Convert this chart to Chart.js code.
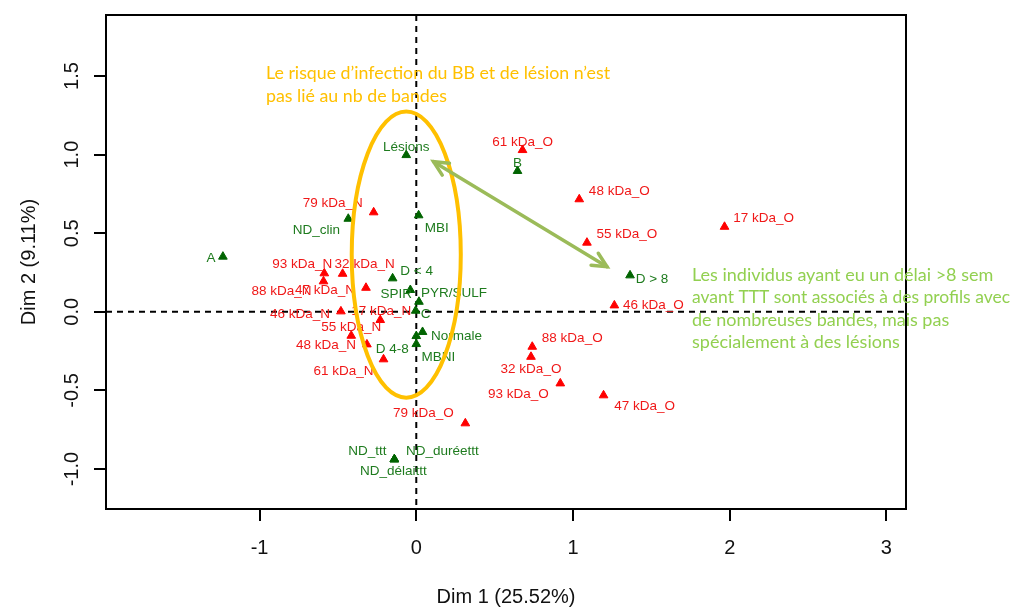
<!DOCTYPE html>
<html>
<head>
<meta charset="utf-8">
<script src="https://cdn.jsdelivr.net/npm/chart.js@4.4.0/dist/chart.umd.min.js"></script>
<style>
  html, body { margin: 0; padding: 0; background: #fff; }
</style>
</head>
<body>
<canvas id="mcaChart" width="1014" height="609"></canvas>
<script>
// Axis ticks
const xTicks = [-1, 0, 1, 2, 3];
const yTicks = [-1.0, -0.5, 0.0, 0.5, 1.0, 1.5];

// Band modalities (red)
const bandLabels = ['61 kDa_O', '48 kDa_O', '17 kDa_O', '55 kDa_O', '46 kDa_O', '88 kDa_O', '32 kDa_O', '93 kDa_O', '47 kDa_O', '79 kDa_O',
                    '79 kDa_N', '93 kDa_N', '32 kDa_N', '88 kDa_N', '47 kDa_N', '46 kDa_N', '17 kDa_N', '55 kDa_N', '48 kDa_N', '61 kDa_N'];
const bandDim1 = [0.678, 1.040, 1.967, 1.089, 1.264, 0.740, 0.732, 0.919, 1.195, 0.313,
                  -0.272, -0.587, -0.470, -0.592, -0.321, -0.481, -0.230, -0.415, -0.315, -0.209];
const bandDim2 = [1.029, 0.716, 0.541, 0.440, 0.041, -0.222, -0.286, -0.455, -0.531, -0.709,
                  0.633, 0.245, 0.242, 0.194, 0.153, 0.003, -0.052, -0.152, -0.207, -0.302];

// Supplementary variables (green)
const varLabels = ['Lésions', 'ND_clin', 'MBI', 'A', 'D < 4', 'SPIR', 'PYR/SULF', 'C', 'Normale', 'D 4-8', 'MBNI',
                   'ND_ttt', 'ND_duréettt', 'ND_délaittt', 'B', 'D > 8'];
const varDim1 = [-0.064, -0.434, 0.015, -1.234, -0.151, -0.038, 0.017, -0.004, 0.040, 0.000, 0.000,
                 -0.140, -0.140, -0.140, 0.646, 1.364];
const varDim2 = [0.997, 0.592, 0.614, 0.351, 0.213, 0.139, 0.064, 0.007, -0.128, -0.154, -0.205,
                 -0.938, -0.938, -0.938, 0.896, 0.232];

// label placement (pixel nudges from the marker)
const bandNudge = [[0,-8],[40,-8],[39,-9],[40,-8],[39,0],[40,-8],[0,12],[-42,11],[41,11],[-42,-10],
                   [-41,-9],[-22,-9],[22,-10],[-42,10],[-41,2],[-41,3],[1,-9],[0,-8],[-41,1],[-40,12]];
const varNudge = [[0,-8],[-32,12],[18,13],[-12,2],[24,-7],[-14,4],[35,-8],[10,4],[34,4],[-24,13],[22,13],
                  [-27,-8],[48,-8],[-1,12],[0,-8],[22,4]];

const FONT = "'Liberation Sans', Arial, sans-serif";
const NOTE_FONT = "Lato, 'Open Sans', sans-serif";

function toPoints(xs, ys) {
    return xs.map((v, i) => ({ x: v, y: ys[i] }));
}

// Draw an open arrow head at (x, y) pointing away from (fx, fy)
function arrowHead(ctx, fx, fy, x, y, len) {
    const ang = Math.atan2(y - fy, x - fx);
    ctx.beginPath();
    ctx.moveTo(x - len * Math.cos(ang - 0.45), y - len * Math.sin(ang - 0.45));
    ctx.lineTo(x, y);
    ctx.lineTo(x - len * Math.cos(ang + 0.45), y - len * Math.sin(ang + 0.45));
    ctx.stroke();
}

const overlayPlugin = {
    id: 'overlay',
    beforeDatasetsDraw(chart) {
        const { ctx, chartArea: a, scales: { x, y } } = chart;
        ctx.save();
        ctx.strokeStyle = '#000';
        ctx.lineWidth = 2;
        ctx.setLineDash([6, 5]);
        const x0 = x.getPixelForValue(0), y0 = y.getPixelForValue(0);
        ctx.beginPath();
        ctx.moveTo(x0, a.top); ctx.lineTo(x0, a.bottom);
        ctx.moveTo(a.left, y0); ctx.lineTo(a.right, y0);
        ctx.stroke();
        ctx.restore();
    },
    afterDraw(chart) {
        const { ctx, chartArea: a, scales: { x, y } } = chart;
        ctx.save();

        // plot box
        ctx.strokeStyle = '#000';
        ctx.lineWidth = 2;
        ctx.strokeRect(a.left, a.top, a.right - a.left, a.bottom - a.top);

        // y tick labels, rotated like R
        ctx.fillStyle = '#111';
        ctx.font = '20px ' + FONT;
        ctx.textAlign = 'center';
        ctx.textBaseline = 'alphabetic';
        yTicks.forEach(v => {
            ctx.save();
            ctx.translate(78, y.getPixelForValue(v));
            ctx.rotate(-Math.PI / 2);
            ctx.fillText(v.toFixed(1), 0, 0);
            ctx.restore();
        });

        // point labels
        ctx.font = '13.5px ' + FONT;
        ctx.textBaseline = 'middle';
        const labelSets = [[0, bandLabels, bandNudge, '#f01818'], [1, varLabels, varNudge, '#1e7b1e']];
        labelSets.forEach(([idx, labels, nudge, color]) => {
            const meta = chart.getDatasetMeta(idx);
            ctx.fillStyle = color;
            meta.data.forEach((pt, i) => {
                ctx.fillText(labels[i], pt.x + nudge[i][0], pt.y + nudge[i][1]);
            });
        });

        // orange ellipse around the central profiles
        const cx = x.getPixelForValue(-0.064), cy = y.getPixelForValue(0.364);
        const rx = x.getPixelForValue(-0.064 + 0.348) - cx;
        const ry = cy - y.getPixelForValue(0.364 + 0.91);
        ctx.strokeStyle = '#ffc000';
        ctx.lineWidth = 4;
        ctx.beginPath();
        ctx.ellipse(cx, cy, rx, ry, 0, 0, Math.PI * 2);
        ctx.stroke();

        // green double arrow
        const ax1 = x.getPixelForValue(0.110), ay1 = y.getPixelForValue(0.955);
        const ax2 = x.getPixelForValue(1.217), ay2 = y.getPixelForValue(0.287);
        ctx.strokeStyle = '#9bbb59';
        ctx.lineWidth = 3.5;
        ctx.lineCap = 'round';
        ctx.beginPath();
        ctx.moveTo(ax1, ay1); ctx.lineTo(ax2, ay2);
        ctx.stroke();
        arrowHead(ctx, ax1, ay1, ax2, ay2, 16);
        arrowHead(ctx, ax2, ay2, ax1, ay1, 16);

        // annotations
        ctx.textAlign = 'left';
        ctx.font = '17.8px ' + NOTE_FONT;
        ctx.fillStyle = '#ffc000';
        ctx.fillText('Le risque d’infection du BB et de lésion n’est', 266, 73, 344);
        ctx.fillText('pas lié au nb de bandes', 266, 96);
        ctx.fillStyle = '#92d050';
        ctx.font = '18px ' + NOTE_FONT;
        ['Les individus ayant eu un délai >8 sem',
         'avant TTT sont associés à des profils avec',
         'de nombreuses bandes, mais pas',
         'spécialement à des lésions'].forEach((line, i) => {
            ctx.fillText(line, 692, 275 + i * 22.5, 318);
        });

        ctx.restore();
    }
};

const ctx = document.getElementById('mcaChart').getContext('2d');
const mcaChart = new Chart(ctx, {
    type: 'scatter',
    data: {
        datasets: [{
            label: 'Bandes',
            data: toPoints(bandDim1, bandDim2),
            pointStyle: 'triangle',
            pointRadius: 5,
            backgroundColor: '#ff0000',
            borderColor: '#ff0000',
            borderWidth: 1
        }, {
            label: 'Variables',
            data: toPoints(varDim1, varDim2),
            pointStyle: 'triangle',
            pointRadius: 5,
            backgroundColor: '#006400',
            borderColor: '#006400',
            borderWidth: 1
        }]
    },
    options: {
        responsive: false,
        animation: false,
        layout: { padding: { top: 15, right: 108, left: 0, bottom: 0 } },
        plugins: {
            legend: { display: false },
            tooltip: { enabled: false }
        },
        scales: {
            x: {
                type: 'linear',
                min: -1.98,
                max: 3.125,
                afterBuildTicks: scale => { scale.ticks = xTicks.map(v => ({ value: v })); },
                afterFit: scale => { scale.height = 100; },
                grid: { drawOnChartArea: false, drawTicks: true, tickLength: 12, color: '#000', lineWidth: 2 },
                border: { display: false },
                ticks: {
                    font: { family: FONT, size: 20 },
                    color: '#111',
                    padding: 15,
                    maxRotation: 0,
                    callback: v => String(v)
                },
                title: {
                    display: true,
                    text: 'Dim 1 (25.52%)',
                    font: { family: FONT, size: 20 },
                    color: '#111',
                    padding: { top: 0, bottom: 0 }
                }
            },
            y: {
                type: 'linear',
                min: -1.254,
                max: 1.888,
                afterBuildTicks: scale => { scale.ticks = yTicks.map(v => ({ value: v })); },
                afterFit: scale => { scale.width = 106; },
                grid: { drawOnChartArea: false, drawTicks: true, tickLength: 12, color: '#000', lineWidth: 2 },
                border: { display: false },
                ticks: { display: false },
                title: {
                    display: true,
                    text: 'Dim 2 (9.11%)',
                    font: { family: FONT, size: 20 },
                    color: '#111',
                    padding: { top: 17, bottom: 0 }
                }
            }
        }
    },
    plugins: [overlayPlugin]
});
</script>
</body>
</html>
